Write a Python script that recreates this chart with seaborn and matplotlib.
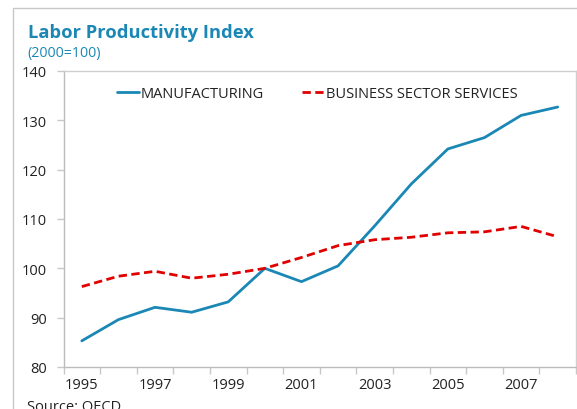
import matplotlib
matplotlib.use("Agg")
import matplotlib.pyplot as plt
import matplotlib.patches as mpatches
import seaborn as sns
import pandas as pd

years = list(range(1995, 2009))
manufacturing = [85.3, 89.6, 92.1, 91.1, 93.2, 100.0, 97.3, 100.5, 108.6, 117.1, 124.2, 126.5, 131.0, 132.7]
services = [96.3, 98.4, 99.4, 98.0, 98.8, 100.0, 102.2, 104.6, 105.8, 106.3, 107.2, 107.4, 108.5, 106.4]
series_names = ["MANUFACTURING", "BUSINESS SECTOR SERVICES"]
y_ticks = [80, 90, 100, 110, 120, 130, 140]
x_tick_years = [1995, 1997, 1999, 2001, 2003, 2005, 2007]

df = pd.DataFrame({
    "year": years * 2,
    "value": manufacturing + services,
    "series": [series_names[0]] * len(years) + [series_names[1]] * len(years),
})

sns.set_theme(style="white")
plt.rcParams["font.family"] = ["Open Sans", "DejaVu Sans"]

W, H = 577, 410
fig = plt.figure(figsize=(W / 100, H / 100), dpi=100)
ax = fig.add_axes([63.5 / W, 1 - 368 / H, (576 - 63.5) / W, (368 - 72) / H])

palette = {series_names[0]: "#1a87b5", series_names[1]: "#e00000"}
sns.lineplot(data=df, x="year", y="value", hue="series", style="series",
             palette=palette, dashes={series_names[0]: "", series_names[1]: (3, 1.6)},
             linewidth=2.0, ax=ax, legend=True)

ax.set_xlim(1994.5, 2008.5)
ax.set_ylim(80, 140)
ax.set_yticks(y_ticks)
ax.set_yticklabels([str(v) for v in y_ticks])
ax.set_xticks(x_tick_years)
ax.set_xticklabels([str(v) for v in x_tick_years])
ax.set_xticks([y - 0.5 for y in range(1995, 2010)], minor=True)
ax.tick_params(axis="x", which="major", length=0, pad=7.5, labelsize=10.5, labelcolor="#222222")
ax.tick_params(axis="x", which="minor", length=5, width=1, color="#c8c8c8", bottom=True)
ax.tick_params(axis="y", which="major", length=5, width=1, color="#c8c8c8", left=True,
               pad=7, labelsize=10.5, labelcolor="#222222")
ax.set_xlabel("")
ax.set_ylabel("")
for s in ax.spines.values():
    s.set_color("#cfcfcf")
    s.set_linewidth(1)
ax.spines["left"].set_color("#bcbcbc")
ax.spines["bottom"].set_color("#bcbcbc")

leg = ax.legend(loc="upper center", bbox_to_anchor=(0.495, 0.995), ncol=2, frameon=False,
                fontsize=10.5, handlelength=1.5, handletextpad=0.15, columnspacing=2.6)
for t in leg.get_texts():
    t.set_color("#222222")
for h in leg.get_lines():
    h.set_linewidth(2.0)

fig.text(28 / W, 1 - 38 / H, "Labor Productivity Index", fontsize=13.2, fontweight="bold",
         color="#1a87b5", va="baseline", ha="left")
fig.text(27 / W, 1 - 57 / H, "(2000=100)", fontsize=10.2, color="#1a87b5",
         va="baseline", ha="left")
fig.text(27 / W, 1 - 400 / H, "Source: OECD", fontsize=10.5, color="#222222",
         va="top", ha="left")

border = mpatches.Rectangle((13 / W, -0.1), 2.0, 1 - 9 / H + 0.1, transform=fig.transFigure,
                            fill=False, edgecolor="#c8c8c8", linewidth=1, clip_on=False)
fig.patches.append(border)

fig.savefig("out.png", dpi=100)
